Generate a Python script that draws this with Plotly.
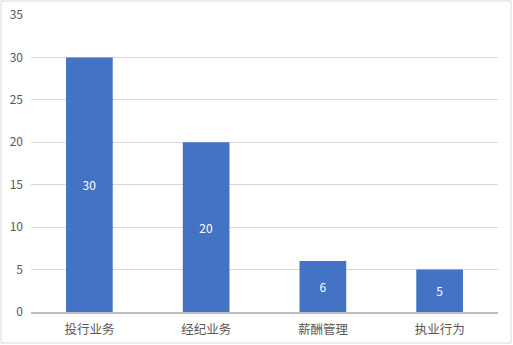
import plotly.graph_objects as go

categories = ["投行业务", "经纪业务", "薪酬管理", "执业行为"]
values = [30, 20, 6, 5]
y_ticks = [0, 5, 10, 15, 20, 25, 30, 35]

fig = go.Figure(go.Bar(
    x=categories, y=values,
    marker=dict(color="#4472C4", line=dict(width=0)),
    text=[str(v) for v in values],
    textposition="inside", insidetextanchor="middle",
    textfont=dict(color="white", size=12, family="Noto Sans CJK SC, sans-serif"),
    hoverinfo="skip",
))

fig.update_layout(
    width=513, height=345,
    margin=dict(l=31, r=15, t=15, b=33, autoexpand=False),
    paper_bgcolor="white", plot_bgcolor="white",
    bargap=0.6,
    showlegend=False,
    font=dict(family="Noto Sans CJK SC, sans-serif", color="#595959", size=12),
    xaxis=dict(showgrid=False, showline=True, linecolor="#bfbfbf", linewidth=2,
               ticks="", automargin=False, ticklabelstandoff=5,
               tickfont=dict(size=12.5, color="#595959")),
    yaxis=dict(range=[0, 35], tickvals=y_ticks, showgrid=True, gridcolor="#d9d9d9",
               gridwidth=1, zeroline=False, showline=False, ticks="", automargin=False,
               tickfont=dict(size=12, color="#595959"), ticklabelstandoff=7),
    shapes=[dict(type="rect", xref="paper", yref="paper",
                 x0=-0.0642, x1=1.0278, y0=-0.1044, y1=1.0471,
                 line=dict(color="#d9d9d9", width=1))],
)

fig.write_html("out.html")
